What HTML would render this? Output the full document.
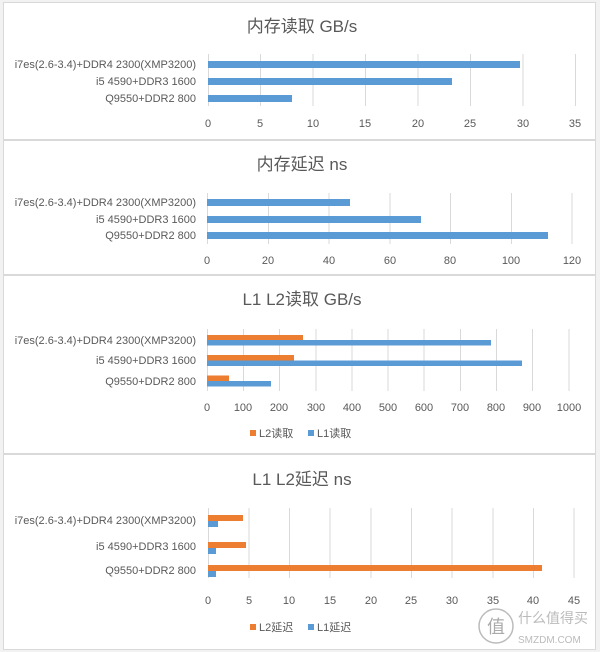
<!DOCTYPE html>
<html><head><meta charset="utf-8"><style>
html,body{margin:0;padding:0;background:#fff;}
svg{display:block;font-family:"Liberation Sans","Noto Sans CJK SC",sans-serif;}
</style></head><body>
<svg width="600" height="652" viewBox="0 0 600 652" xmlns="http://www.w3.org/2000/svg">
<rect width="600" height="652" fill="#f2f2f2"/>
<g stroke="#d9d9d9" stroke-width="1">
<rect x="3.5" y="2.5" width="592" height="137" fill="#fff"/>
<rect x="3.5" y="140.5" width="592" height="134" fill="#fff"/>
<rect x="3.5" y="275.5" width="592" height="178" fill="#fff"/>
<rect x="3.5" y="454.5" width="592" height="195" fill="#fff"/>
</g>
<g fill="#595959" font-size="17" text-anchor="middle">
<text x="302" y="32">内存读取 GB/s</text>
<text x="302" y="170">内存延迟 ns</text>
<text x="302" y="305">L1 L2读取 GB/s</text>
<text x="302" y="485">L1 L2延迟 ns</text>
</g>
<!-- chart 1 -->
<g stroke="#d9d9d9">
<line x1="208.5" y1="54" x2="208.5" y2="106"/><line x1="260.5" y1="54" x2="260.5" y2="106"/><line x1="313" y1="54" x2="313" y2="106"/><line x1="365.5" y1="54" x2="365.5" y2="106"/><line x1="418" y1="54" x2="418" y2="106"/><line x1="470.5" y1="54" x2="470.5" y2="106"/><line x1="523" y1="54" x2="523" y2="106"/><line x1="575.5" y1="54" x2="575.5" y2="106"/>
</g>
<g fill="#5b9bd5">
<rect x="208" y="61" width="312" height="7"/>
<rect x="208" y="78" width="244" height="7"/>
<rect x="208" y="95" width="84" height="7"/>
</g>
<g fill="#595959" font-size="11" text-anchor="end">
<text x="196" y="68">i7es(2.6-3.4)+DDR4 2300(XMP3200)</text>
<text x="196" y="85">i5 4590+DDR3 1600</text>
<text x="196" y="102">Q9550+DDR2 800</text>
</g>
<g fill="#595959" font-size="11" text-anchor="middle">
<text x="208" y="127">0</text><text x="260" y="127">5</text><text x="313" y="127">10</text><text x="365" y="127">15</text><text x="418" y="127">20</text><text x="470" y="127">25</text><text x="523" y="127">30</text><text x="575" y="127">35</text>
</g>
<!-- chart 2 -->
<g stroke="#d9d9d9">
<line x1="207.5" y1="193" x2="207.5" y2="244"/><line x1="268.5" y1="193" x2="268.5" y2="244"/><line x1="329" y1="193" x2="329" y2="244"/><line x1="390" y1="193" x2="390" y2="244"/><line x1="450.5" y1="193" x2="450.5" y2="244"/><line x1="511.5" y1="193" x2="511.5" y2="244"/><line x1="572" y1="193" x2="572" y2="244"/>
</g>
<g fill="#5b9bd5">
<rect x="207" y="199" width="143" height="7"/>
<rect x="207" y="216" width="214" height="7"/>
<rect x="207" y="232" width="341" height="7"/>
</g>
<g fill="#595959" font-size="11" text-anchor="end">
<text x="196" y="206">i7es(2.6-3.4)+DDR4 2300(XMP3200)</text>
<text x="196" y="223">i5 4590+DDR3 1600</text>
<text x="196" y="239">Q9550+DDR2 800</text>
</g>
<g fill="#595959" font-size="11" text-anchor="middle">
<text x="207" y="264">0</text><text x="268" y="264">20</text><text x="329" y="264">40</text><text x="390" y="264">60</text><text x="450" y="264">80</text><text x="511" y="264">100</text><text x="572" y="264">120</text>
</g>
<!-- chart 3 -->
<g stroke="#d9d9d9">
<line x1="207.5" y1="329" x2="207.5" y2="391"/><line x1="243.5" y1="329" x2="243.5" y2="391"/><line x1="279.5" y1="329" x2="279.5" y2="391"/><line x1="316" y1="329" x2="316" y2="391"/><line x1="352" y1="329" x2="352" y2="391"/><line x1="388" y1="329" x2="388" y2="391"/><line x1="424" y1="329" x2="424" y2="391"/><line x1="460.5" y1="329" x2="460.5" y2="391"/><line x1="496.5" y1="329" x2="496.5" y2="391"/><line x1="532.5" y1="329" x2="532.5" y2="391"/><line x1="569" y1="329" x2="569" y2="391"/>
</g>
<g fill="#ed7d31">
<rect x="207" y="335" width="96" height="5.5"/>
<rect x="207" y="355" width="87" height="5.5"/>
<rect x="207" y="375.5" width="22" height="5.5"/>
</g>
<g fill="#5b9bd5">
<rect x="207" y="340" width="284" height="5.5"/>
<rect x="207" y="360.5" width="315" height="5.5"/>
<rect x="207" y="381" width="64" height="5.5"/>
</g>
<g fill="#595959" font-size="11" text-anchor="end">
<text x="196" y="344">i7es(2.6-3.4)+DDR4 2300(XMP3200)</text>
<text x="196" y="364">i5 4590+DDR3 1600</text>
<text x="196" y="385">Q9550+DDR2 800</text>
</g>
<g fill="#595959" font-size="11" text-anchor="middle">
<text x="207" y="411">0</text><text x="243" y="411">100</text><text x="279" y="411">200</text><text x="316" y="411">300</text><text x="352" y="411">400</text><text x="388" y="411">500</text><text x="424" y="411">600</text><text x="460" y="411">700</text><text x="496" y="411">800</text><text x="532" y="411">900</text><text x="569" y="411">1000</text>
</g>
<rect x="250" y="430" width="6" height="6" fill="#ed7d31"/>
<text x="259" y="437" fill="#595959" font-size="11">L2读取</text>
<rect x="308" y="430" width="6" height="6" fill="#5b9bd5"/>
<text x="317" y="437" fill="#595959" font-size="11">L1读取</text>
<!-- chart 4 -->
<g stroke="#d9d9d9">
<line x1="208.5" y1="508" x2="208.5" y2="578"/><line x1="249" y1="508" x2="249" y2="578"/><line x1="289.5" y1="508" x2="289.5" y2="578"/><line x1="330" y1="508" x2="330" y2="578"/><line x1="371" y1="508" x2="371" y2="578"/><line x1="411.5" y1="508" x2="411.5" y2="578"/><line x1="452" y1="508" x2="452" y2="578"/><line x1="493" y1="508" x2="493" y2="578"/><line x1="533.5" y1="508" x2="533.5" y2="578"/><line x1="574" y1="508" x2="574" y2="578"/>
</g>
<g fill="#ed7d31">
<rect x="208" y="515" width="35" height="6"/>
<rect x="208" y="542" width="38" height="6"/>
<rect x="208" y="565" width="334" height="6"/>
</g>
<g fill="#5b9bd5">
<rect x="208" y="521" width="10" height="6"/>
<rect x="208" y="548" width="8" height="6"/>
<rect x="208" y="571" width="8" height="6"/>
</g>
<g fill="#595959" font-size="11" text-anchor="end">
<text x="196" y="524">i7es(2.6-3.4)+DDR4 2300(XMP3200)</text>
<text x="196" y="550">i5 4590+DDR3 1600</text>
<text x="196" y="574">Q9550+DDR2 800</text>
</g>
<g fill="#595959" font-size="11" text-anchor="middle">
<text x="208" y="604">0</text><text x="249" y="604">5</text><text x="289" y="604">10</text><text x="330" y="604">15</text><text x="371" y="604">20</text><text x="411" y="604">25</text><text x="452" y="604">30</text><text x="493" y="604">35</text><text x="533" y="604">40</text><text x="574" y="604">45</text>
</g>
<rect x="250" y="624" width="6" height="6" fill="#ed7d31"/>
<text x="259" y="631" fill="#595959" font-size="11">L2延迟</text>
<rect x="308" y="624" width="6" height="6" fill="#5b9bd5"/>
<text x="317" y="631" fill="#595959" font-size="11">L1延迟</text>
<!-- watermark -->
<circle cx="496" cy="626" r="17" fill="none" stroke="#bbb" stroke-width="1.5"/>
<text x="496" y="633" text-anchor="middle" fill="#aaa" font-size="18">值</text>
<text x="518" y="623" fill="#bbb" font-size="14">什么值得买</text>
<text x="518" y="643" fill="#bbb" font-size="10">SMZDM.COM</text>
</svg>
</body></html>
